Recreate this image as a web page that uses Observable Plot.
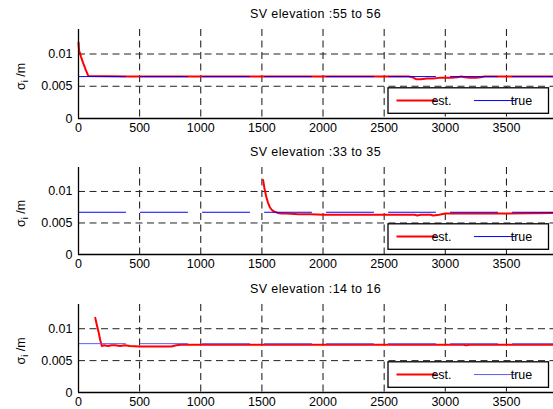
<!DOCTYPE html>
<html>
<head>
<meta charset="utf-8">
<script src="https://cdn.jsdelivr.net/npm/d3@7"></script>
<script src="https://cdn.jsdelivr.net/npm/@observablehq/plot@0.6"></script>
<style>
  html, body { margin: 0; padding: 0; background: #fff; }
  #chart { width: 553px; height: 409px; overflow: hidden; }
  #chart svg { display: block; }
</style>
</head>
<body>
<div id="chart"></div>
<script>
// ---- data ----
const titles = ["SV elevation :55 to 56", "SV elevation :33 to 35", "SV elevation :14 to 16"];
const xTicks = [0, 500, 1000, 1500, 2000, 2500, 3000, 3500];
const yTicks = [0, 0.005, 0.01];
const xDomain = [0, 3885];
const yDomain = [0, 0.0138];
const trueSigma = [0.0065, 0.0067, 0.00766];

const est1X = [0, 4, 8, 12, 20, 40, 60, 80, 400, 1000, 2000, 2700, 2730, 2760, 2800, 2850, 2900, 2950, 3000, 3050, 3100, 3130, 3160, 3200, 3250, 3290, 3320, 3885];
const est1Y = [0.0118, 0.0108, 0.0100, 0.0102, 0.0096, 0.0085, 0.0075, 0.0066, 0.0065, 0.0065, 0.0065, 0.0065, 0.0064, 0.0061, 0.0061, 0.0062, 0.0062, 0.0063, 0.0063, 0.0063, 0.0064, 0.0065, 0.0064, 0.0063, 0.0063, 0.0064, 0.0065, 0.0065];

const est2X = [1510, 1520, 1535, 1550, 1565, 1580, 1600, 1630, 1660, 1700, 1800, 1900, 2000, 2300, 2600, 2750, 2770, 2800, 2880, 2900, 2950, 3000, 3050, 3500, 3885];
const est2Y = [0.0118, 0.0106, 0.0092, 0.0082, 0.0075, 0.0071, 0.0068, 0.0066, 0.0065, 0.0065, 0.0064, 0.0064, 0.0063, 0.0063, 0.0063, 0.0063, 0.0062, 0.0063, 0.0063, 0.0062, 0.0063, 0.0065, 0.0065, 0.0065, 0.0066];

const est3X = [137, 150, 164, 178, 191, 210, 240, 270, 300, 340, 380, 420, 500, 600, 700, 760, 800, 840, 1000, 2000, 3000, 3150, 3170, 3200, 3885];
const est3Y = [0.0117, 0.0106, 0.0095, 0.0082, 0.0073, 0.0074, 0.0073, 0.0074, 0.0074, 0.0073, 0.0074, 0.0073, 0.0072, 0.0072, 0.0072, 0.0072, 0.0074, 0.0075, 0.0075, 0.0075, 0.0075, 0.0075, 0.0074, 0.0075, 0.0075];

const estX = [est1X, est2X, est3X];
const estY = [est1Y, est2Y, est3Y];
const trueColors = ["#0000ff", "#0000ff", "#5c5cff"];

// ---- layout ----
const W = 553;
const panels = [
  {height: 137, marginTop: 29, marginBottom: 19},
  {height: 138, marginTop: 30, marginBottom: 21},
  {height: 134, marginTop: 29, marginBottom: 17}
];
const ML = 78, MR = 0;
const FONT = "'Liberation Sans', Arial, Helvetica, sans-serif";

const root = document.getElementById("chart");

panels.forEach((p, i) => {
  const est = estX[i].map((x, k) => ({x, y: estY[i][k]}));
  const tru = xDomain.map(x => ({x, y: trueSigma[i]}));
  const svg = Plot.plot({
    width: W,
    height: p.height,
    marginLeft: ML,
    marginRight: MR,
    marginTop: p.marginTop,
    marginBottom: p.marginBottom,
    style: {fontFamily: FONT, fontSize: "12px", color: "#000", background: "#fff"},
    x: {domain: xDomain, ticks: xTicks, label: null},
    y: {domain: yDomain, ticks: yTicks, label: null},
    marks: [
      Plot.gridX(xTicks.filter(d => d > 0), {stroke: "#111", strokeOpacity: 1, strokeWidth: 1, strokeDasharray: "7,4.5"}),
      Plot.gridY(yTicks.filter(d => d > 0), {stroke: "#222", strokeOpacity: 1, strokeWidth: 1, strokeDasharray: "7,4.5"}),
      Plot.axisX({ticks: xTicks, tickSize: 0, tickPadding: 5, fontSize: 12.5, tickFormat: d => String(d)}),
      Plot.axisY({ticks: yTicks, tickSize: 0, tickPadding: 6, fontSize: 12.5, tickFormat: d => d === 0 ? "0" : String(d)}),
      Plot.line(est, {x: "x", y: "y", stroke: "#ff0000", strokeWidth: 2, curve: "linear"}),
      Plot.line(tru, {x: "x", y: "y", stroke: trueColors[i], strokeWidth: 1, strokeDasharray: "47,15"}),
      Plot.ruleX([0], {stroke: "#000", strokeWidth: 1.3}),
      Plot.ruleY([0], {stroke: "#000", strokeWidth: 1.3})
    ]
  });

  const s = d3.select(svg);
  const plotBottom = p.height - p.marginBottom;
  const plotTop = p.marginTop;

  // title
  s.append("text")
    .attr("x", ML + (W - ML - MR) / 2)
    .attr("y", plotTop - 10.7)
    .attr("text-anchor", "middle")
    .style("font-family", FONT)
    .style("font-size", "12.5px")
    .style("letter-spacing", "0.4px")
    .attr("fill", "#000")
    .text(titles[i]);

  // y label
  const yl = s.append("text")
    .attr("transform", `translate(25,${(plotTop + plotBottom) / 2 + 3}) rotate(-90)`)
    .attr("text-anchor", "middle")
    .style("font-family", FONT)
    .style("font-size", "12.5px")
    .attr("fill", "#000");
  yl.append("tspan").text("σ");
  yl.append("tspan").attr("dy", "3").style("font-size", "9px").text("i");
  yl.append("tspan").attr("dy", "-3").text(" /m");

  // legend
  const lx0 = W - 165, lx1 = W - 4.5;
  const ly1 = plotBottom - 4.7, ly0 = ly1 - 25.5;
  const lg = s.append("g");
  lg.append("rect")
    .attr("x", lx0).attr("y", ly0)
    .attr("width", lx1 - lx0).attr("height", ly1 - ly0)
    .attr("fill", "#fff").attr("stroke", "#000").attr("stroke-width", 1.3);
  const ly = (ly0 + ly1) / 2;
  lg.append("line").attr("x1", lx0 + 8.5).attr("x2", lx0 + 48.5).attr("y1", ly).attr("y2", ly)
    .attr("stroke", "#ff0000").attr("stroke-width", 2);
  lg.append("text").attr("x", lx0 + 53.5).attr("y", ly + 4.3)
    .style("font-family", FONT).style("font-size", "12.5px").attr("fill", "#000").text("est.");
  lg.append("line").attr("x1", lx0 + 86).attr("x2", lx0 + 127.5).attr("y1", ly).attr("y2", ly)
    .attr("stroke", trueColors[i]).attr("stroke-width", 1);
  lg.append("text").attr("x", lx0 + 133.5).attr("y", ly + 4.3)
    .style("font-family", FONT).style("font-size", "12.5px").attr("fill", "#000").text("true");

  root.appendChild(svg);
});
</script>
</body>
</html>
